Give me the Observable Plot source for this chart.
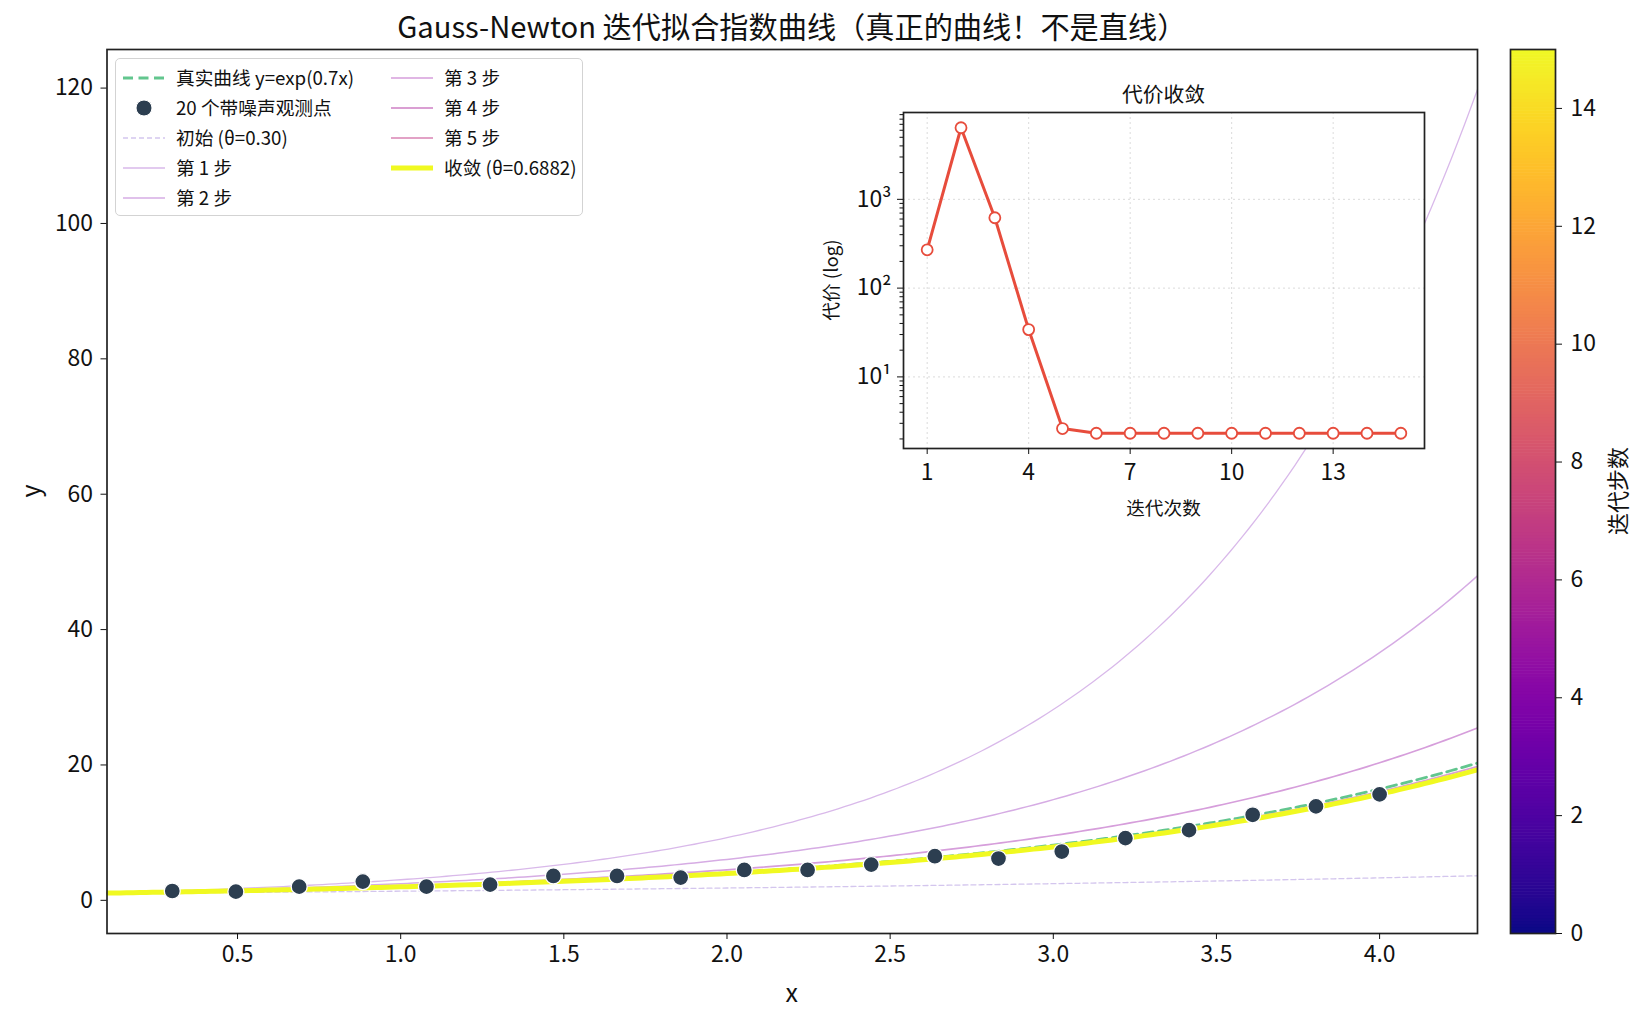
<!DOCTYPE html>
<html><head><meta charset="utf-8">
<script src="https://cdn.jsdelivr.net/npm/d3@7"></script>
<script src="https://cdn.jsdelivr.net/npm/@observablehq/plot@0.6"></script>
<style>
body{margin:0;background:#fff;font-family:"Noto Sans CJK SC","Noto Sans",sans-serif;}
#fig{position:relative;width:1645px;height:1025px;overflow:hidden;background:#fff;}
.lbl{position:absolute;line-height:1;white-space:nowrap;color:#111;transform:translate(-50%,-50%);}
#legend{position:absolute;left:115px;top:58px;width:468px;height:158px;box-sizing:border-box;border:1.3px solid #d3d3d3;border-radius:5px;background:rgba(255,255,255,0.85);}
.li{position:absolute;display:flex;align-items:center;font-size:18.7px;color:#111;white-space:nowrap;line-height:1;}
.li svg{margin-right:11px;}
</style></head><body><div id="fig"></div>
<script>
// ---- data ----
const obsX = [0.300, 0.495, 0.689, 0.884, 1.079, 1.274, 1.468, 1.663, 1.858, 2.053,
              2.247, 2.442, 2.637, 2.832, 3.026, 3.221, 3.416, 3.611, 3.805, 4.000];
const obsY = [1.38, 1.28, 2.02, 2.77, 2.02, 2.32, 3.60, 3.60, 3.36, 4.49,
              4.49, 5.28, 6.52, 6.17, 7.21, 9.19, 10.37, 12.64, 13.88, 15.65];
const thetaTrue = 0.7;
const thetaInit = 0.30;
const stepNames = ["第 1 步", "第 2 步", "第 3 步", "第 4 步", "第 5 步"];
const stepTheta = [1.113, 0.900, 0.753, 0.694, 0.6884];
const thetaFinal = 0.6882;
const iterNum = [1, 2, 3, 4, 5, 6, 7, 8, 9, 10, 11, 12, 13, 14, 15];
const iterCost = [270, 6400, 620, 34.1, 2.62, 2.32, 2.32, 2.32, 2.32, 2.32, 2.32, 2.32, 2.32, 2.32, 2.32];
const xTicks = [0.5, 1.0, 1.5, 2.0, 2.5, 3.0, 3.5, 4.0];
const yTicks = [0, 20, 40, 60, 80, 100, 120];
const insetXTicks = [1, 4, 7, 10, 13];
const insetYTicks = [10, 100, 1000];
const cbarTicks = [0, 2, 4, 6, 8, 10, 12, 14];

// ---- styles ----
const FONT = '"Noto Sans CJK SC","Noto Sans",sans-serif';
const TICK = "22.9px";
const stepColors = ["#d9b9ea", "#d6ace4", "#d69edb", "#da9fd3", "#e2a2c6"];
const stepWidths = [1.3, 1.5, 1.7, 1.8, 2.0];
const cTrue = "#62c68e", cInit = "#d4c6ee", cFinal = "#f0f921", cPts = "#2c3e50", cCost = "#e74c3c";

const fig = document.getElementById("fig");

// analytic model curves y = exp(theta * x) over the plotted x range
const xGrid = d3.range(0.1, 4.3 + 1e-9, 0.02);
const curve = th => xGrid.map(x => ({x, y: Math.exp(th * x)}));
const obs = obsX.map((x, i) => ({x, y: obsY[i]}));

// ---- main plot ----
const L = 106.5, R = 1477, T = 49, B = 933;
const main = Plot.plot({
  width: 1645, height: 1025,
  marginLeft: L, marginRight: 1645 - R, marginTop: T, marginBottom: 1025 - B,
  x: {domain: [0.1, 4.3]},
  y: {domain: [-4.9, 125.7]},
  style: {fontFamily: FONT, fontSize: TICK, color: "#111", background: "transparent", overflow: "visible"},
  marks: [
    Plot.line(curve(thetaTrue), {x: "x", y: "y", stroke: cTrue, strokeWidth: 2.8, strokeDasharray: "10,5.5", clip: true}),
    Plot.line(curve(thetaInit), {x: "x", y: "y", stroke: cInit, strokeWidth: 1.3, strokeDasharray: "5,3", clip: true}),
    ...stepTheta.map((th, i) => Plot.line(curve(th), {x: "x", y: "y", stroke: stepColors[i], strokeWidth: stepWidths[i], clip: true})),
    Plot.line(curve(thetaFinal), {x: "x", y: "y", stroke: cFinal, strokeWidth: 5, clip: true}),
    Plot.dot(obs, {x: "x", y: "y", r: 8, fill: cPts, stroke: "white", strokeWidth: 1.3}),
    Plot.frame({stroke: "#222", strokeWidth: 1.7}),
    Plot.axisX({ticks: xTicks, tickFormat: d => d.toFixed(1), tickSize: 6, tickPadding: 6, label: null}),
    Plot.axisY({ticks: yTicks, tickSize: 6, tickPadding: 8, label: null})
  ]
});
main.style.position = "absolute"; main.style.left = "0px"; main.style.top = "0px";
fig.appendChild(main);

// ---- inset ----
const iL = 903, iR = 1424, iT = 112, iB = 448;
const imL = 95, imR = 12, imT = 12, imB = 60;
const lo = Math.log10(d3.min(iterCost)), hi = Math.log10(d3.max(iterCost));
const pad = (hi - lo) * 0.05;
const minorTicks = [];
[1, 10, 100, 1000].forEach(dec => [2,3,4,5,6,7,8,9].forEach(m => minorTicks.push(dec * m)));
const sup = {"1": "¹", "2": "²", "3": "³"};
const costData = iterNum.map((n, i) => ({n, c: iterCost[i]}));
const inset = Plot.plot({
  width: imL + (iR - iL) + imR, height: imT + (iB - iT) + imB,
  marginLeft: imL, marginRight: imR, marginTop: imT, marginBottom: imB,
  x: {domain: [0.3, 15.7]},
  y: {type: "log", domain: [Math.pow(10, lo - pad), Math.pow(10, hi + pad)]},
  style: {fontFamily: FONT, fontSize: TICK, color: "#111", background: "transparent", overflow: "visible"},
  marks: [
    Plot.frame({fill: "white", stroke: null}),
    Plot.gridX({ticks: insetXTicks, stroke: "#999", strokeOpacity: 0.35, strokeDasharray: "2,3", strokeWidth: 1}),
    Plot.gridY({ticks: insetYTicks, stroke: "#999", strokeOpacity: 0.35, strokeDasharray: "2,3", strokeWidth: 1}),
    Plot.line(costData, {x: "n", y: "c", stroke: cCost, strokeWidth: 3}),
    Plot.dot(costData, {x: "n", y: "c", r: 5.5, fill: "white", stroke: cCost, strokeWidth: 1.8}),
    Plot.frame({stroke: "#222", strokeWidth: 1.7}),
    Plot.axisX({ticks: insetXTicks, tickSize: 6, tickPadding: 9, label: null}),
    Plot.axisY({ticks: insetYTicks, tickSize: 6, tickPadding: 6, label: null,
      tickFormat: d => "10" + sup[String(Math.round(Math.log10(d)))]}),
    Plot.axisY({ticks: minorTicks.filter(v => v > 1.5 && v < 9500), tickSize: 3.5, tickFormat: () => "", label: null})
  ]
});
inset.style.position = "absolute"; inset.style.left = (iL - imL) + "px"; inset.style.top = (iT - imT) + "px";
fig.appendChild(inset);

// ---- colorbar ----
const cL = 1510, cR = 1555;
const cbBands = d3.range(0, 15, 0.05).map(v => ({y1: v, y2: v + 0.06}));
const cbar = Plot.plot({
  width: (cR - cL) + 70, height: (B - T) + 20,
  marginLeft: 0, marginRight: 70, marginTop: 10, marginBottom: 10,
  x: {domain: [0, 1], axis: null},
  y: {domain: [0, 15]},
  color: {type: "linear", scheme: "plasma", domain: [0, 15]},
  style: {fontFamily: FONT, fontSize: TICK, color: "#111", background: "transparent", overflow: "visible"},
  marks: [
    Plot.rect(cbBands, {x1: 0, x2: 1, y1: "y1", y2: d => Math.min(15, d.y2), fill: "y1"}),
    Plot.frame({stroke: "#222", strokeWidth: 1.7}),
    Plot.axisY({anchor: "right", ticks: cbarTicks, tickSize: 6, tickPadding: 9, label: null})
  ]
});
cbar.style.position = "absolute"; cbar.style.left = cL + "px"; cbar.style.top = (T - 10) + "px";
fig.appendChild(cbar);

// ---- text labels ----
function label(text, x, y, size, extra) {
  const d = document.createElement("div");
  d.className = "lbl"; d.textContent = text;
  d.style.left = x + "px"; d.style.top = y + "px"; d.style.fontSize = size + "px";
  if (extra) d.style.transform = "translate(-50%,-50%) " + extra;
  fig.appendChild(d);
}
label("Gauss-Newton 迭代拟合指数曲线（真正的曲线！不是直线）", (L + R) / 2, 25.5, 29.2);
label("x", (L + R) / 2, 991, 25);
label("y", 29, (T + B) / 2, 25, "rotate(-90deg)");
label("代价收敛", (iL + iR) / 2, 93, 20.8);
label("迭代次数", (iL + iR) / 2, 507, 18.7);
label("代价 (log)", 830, (iT + iB) / 2, 18.7, "rotate(-90deg)");
label("迭代步数", 1616, (T + B) / 2, 22, "rotate(-90deg)");

// ---- legend ----
const leg = document.createElement("div"); leg.id = "legend"; fig.appendChild(leg);
function swatch(kind, color, width, dash) {
  const ns = "http://www.w3.org/2000/svg";
  const s = document.createElementNS(ns, "svg");
  s.setAttribute("width", 42); s.setAttribute("height", 20);
  if (kind === "dot") {
    const c = document.createElementNS(ns, "circle");
    c.setAttribute("cx", 21); c.setAttribute("cy", 10); c.setAttribute("r", 8);
    c.setAttribute("fill", color); c.setAttribute("stroke", "white");
    s.appendChild(c);
  } else {
    const l = document.createElementNS(ns, "line");
    l.setAttribute("x1", 0); l.setAttribute("x2", 42); l.setAttribute("y1", 10); l.setAttribute("y2", 10);
    l.setAttribute("stroke", color); l.setAttribute("stroke-width", width);
    if (dash) l.setAttribute("stroke-dasharray", dash);
    s.appendChild(l);
  }
  return s;
}
const col1 = [
  ["真实曲线 y=exp(0.7x)", "line", cTrue, 2.8, "10,5.5"],
  ["20 个带噪声观测点", "dot", cPts],
  ["初始 (θ=0.30)", "line", cInit, 1.3, "5,3"],
  [stepNames[0], "line", stepColors[0], stepWidths[0]],
  [stepNames[1], "line", stepColors[1], stepWidths[1]]
];
const col2 = [
  [stepNames[2], "line", stepColors[2], stepWidths[2]],
  [stepNames[3], "line", stepColors[3], stepWidths[3]],
  [stepNames[4], "line", stepColors[4], stepWidths[4]],
  ["收敛 (θ=" + thetaFinal.toFixed(4) + ")", "line", cFinal, 5]
];
function addCol(items, x0) {
  items.forEach((it, i) => {
    const row = document.createElement("div"); row.className = "li";
    row.style.left = x0 + "px"; row.style.top = (18.5 + i * 30 - 10) + "px";
    row.appendChild(swatch(it[1], it[2], it[3], it[4]));
    const t = document.createElement("span"); t.textContent = it[0];
    row.appendChild(t); leg.appendChild(row);
  });
}
addCol(col1, 7);
addCol(col2, 275);
</script></body></html>
